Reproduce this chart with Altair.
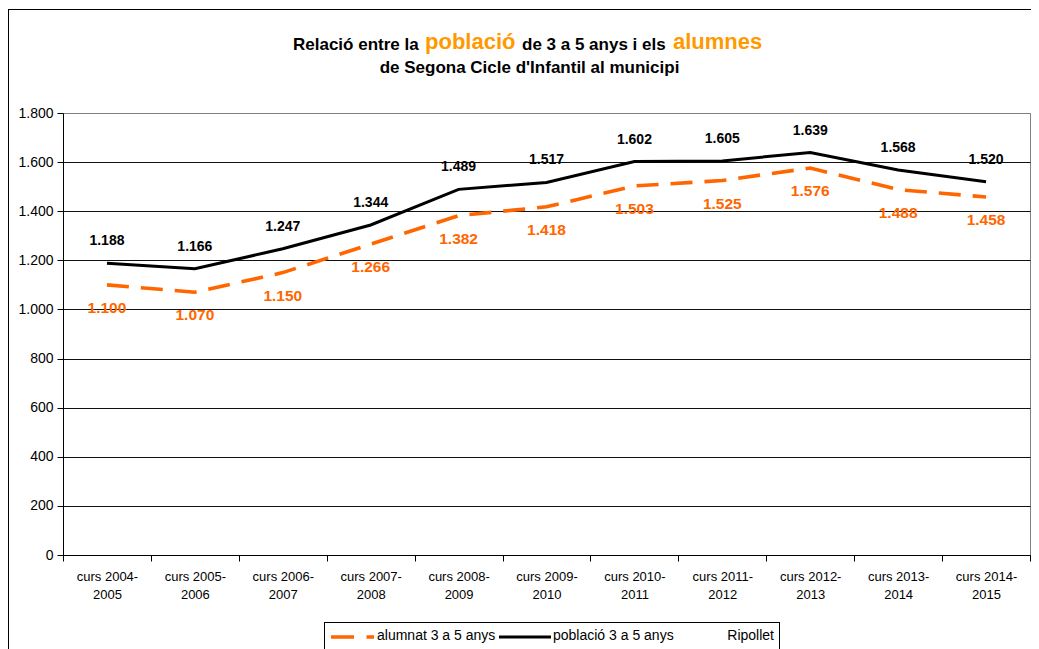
import altair as alt
import pandas as pd

cursos = ["curs 2004-2005", "curs 2005-2006", "curs 2006-2007", "curs 2007-2008",
          "curs 2008-2009", "curs 2009-2010", "curs 2010-2011", "curs 2011-2012",
          "curs 2012-2013", "curs 2013-2014", "curs 2014-2015"]
poblacio = [1188, 1166, 1247, 1344, 1489, 1517, 1602, 1605, 1639, 1568, 1520]
alumnat = [1100, 1070, 1150, 1266, 1382, 1418, 1503, 1525, 1576, 1488, 1458]
y_ticks = [0, 200, 400, 600, 800, 1000, 1200, 1400, 1600, 1800]

FONT = "Liberation Sans"
ORANGE = "#FF6600"
TITLE_ORANGE = "#FF9900"

df = pd.DataFrame({
    "curs": cursos * 2,
    "valor": poblacio + alumnat,
    "serie": ["població 3 a 5 anys"] * len(cursos) + ["alumnat 3 a 5 anys"] * len(cursos),
})
df["lbl"] = df["valor"].map(lambda v: f"{v:,}".replace(",", "."))

df_pob = df[df["serie"] == "població 3 a 5 anys"]
df_alu = df[df["serie"] == "alumnat 3 a 5 anys"]

x_enc = alt.X(
    "curs:N", sort=cursos,
    scale=alt.Scale(type="band", paddingInner=0, paddingOuter=0),
    axis=alt.Axis(
        title=None, labelAngle=0, labelFontSize=13, labelFont=FONT, labelColor="#000",
        labelExpr="[slice(datum.label, 0, 10), slice(datum.label, 10)]",
        labelLineHeight=18, labelBaseline="top", labelPadding=9,
        tickBand="extent", tickSize=6, tickColor="#000", domainColor="#000",
        grid=False, labelLimit=200,
    ),
)
y_enc = alt.Y(
    "valor:Q",
    scale=alt.Scale(domain=[0, 1800], nice=False, zero=True),
    axis=alt.Axis(
        title=None, values=y_ticks, labelFontSize=14, labelFont=FONT, labelColor="#000",
        labelExpr="replace(format(datum.value, ','), ',', '.')",
        labelPadding=4, tickSize=6, tickColor="#000", domainColor="#000",
        grid=True,
        gridColor={"condition": {"test": "datum.value === 1800", "value": "#808080"}, "value": "#111111"},
        gridWidth=1,
    ),
)

line_alu = alt.Chart(df_alu).mark_line(color=ORANGE, strokeWidth=3.6, strokeDash=[22, 12]).encode(x=x_enc, y=y_enc)
line_pob = alt.Chart(df_pob).mark_line(color="#000", strokeWidth=3).encode(x=x_enc, y=y_enc)

lbl_pob = alt.Chart(df_pob).mark_text(
    dy=-22, fontSize=14, fontWeight="bold", font=FONT, color="#000"
).encode(x=x_enc, y=y_enc, text="lbl:N")
lbl_alu = alt.Chart(df_alu).mark_text(
    dy=23, fontSize=15.5, fontWeight="bold", font=FONT, color=ORANGE
).encode(x=x_enc, y=y_enc, text="lbl:N")

one = alt.Data(values=[{"k": 1}])


def txt(text, x, y, size, color="#000", weight="bold", align="left", baseline="alphabetic"):
    return alt.Chart(one).mark_text(
        text=text, fontSize=size, fontWeight=weight, font=FONT, color=color,
        align=align, baseline=baseline,
    ).encode(x=alt.value(x), y=alt.value(y))


def rule(x, x2, y, y2, color="#000", width=1, dash=None):
    kw = dict(color=color, strokeWidth=width)
    if dash:
        kw["strokeDash"] = dash
    return alt.Chart(one).mark_rule(**kw).encode(
        x=alt.value(x), x2=alt.value(x2), y=alt.value(y), y2=alt.value(y2)
    )


title_layers = [
    txt("Relació entre la", 230, -63, 17),
    txt("població", 362, -64, 22, color=TITLE_ORANGE),
    txt("de 3 a 5 anys i els", 459, -63, 17),
    txt("alumnes", 610, -64, 22, color=TITLE_ORANGE),
    txt("de Segona Cicle d'Infantil al municipi", 466.5, -40, 17, align="center"),
]

legend_layers = [
    rule(261, 717, 509.5, 509.5, color="#000", width=1),
    rule(261.5, 261.5, 509.5, 560, color="#000", width=1),
    rule(716.5, 716.5, 509.5, 560, color="#000", width=1),
    rule(268, 311, 524, 524, color=ORANGE, width=3.6, dash=[23, 12.5]),
    txt("alumnat 3 a 5 anys", 314, 523, 14, weight="normal", baseline="middle"),
    rule(436, 488, 524, 524, color="#000", width=3),
    txt("població 3 a 5 anys", 490, 523, 14, weight="normal", baseline="middle"),
    txt("Ripollet", 711, 523, 14, weight="normal", baseline="middle", align="right"),
]

border_layers = [
    rule(-54.5, -54.5, -104, 560, color="#000", width=1),
    rule(-55, 990, -103.5, -103.5, color="#000", width=1),
]

chart = alt.layer(
    line_alu, line_pob, lbl_pob, lbl_alu,
    *title_layers, *legend_layers, *border_layers,
).properties(
    width=967, height=442,
    padding={"left": 55, "top": 105, "right": 1, "bottom": 94},
    autosize=alt.AutoSizeParams(type="none"),
    background="white",
).configure_view(
    stroke="#808080", strokeWidth=1
)

chart.save("out.html", embed_options={"renderer": "svg", "actions": False})
